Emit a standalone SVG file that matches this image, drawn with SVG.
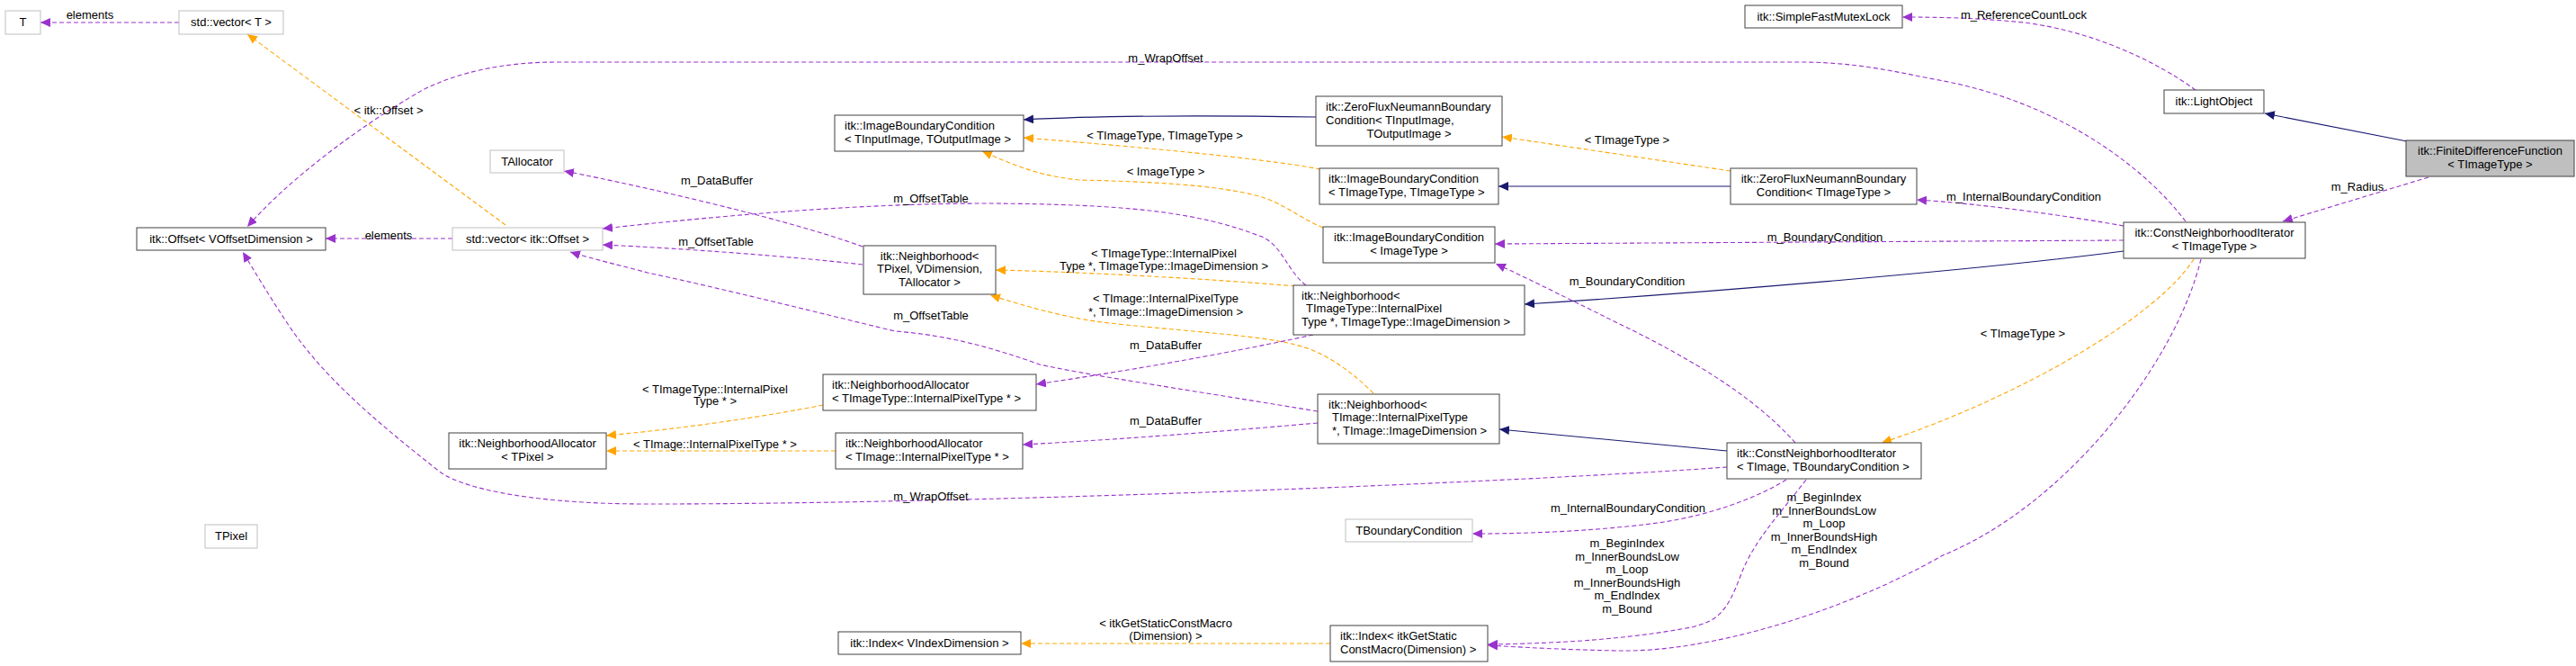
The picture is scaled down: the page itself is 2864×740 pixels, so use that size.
<svg xmlns="http://www.w3.org/2000/svg" width="2864" height="740" viewBox="0 0 2864 740">
<style>
text{font-family:"Liberation Sans",Arial,sans-serif;font-size:13px;fill:#000}
.n rect{fill:#fff;stroke:#404040;stroke-width:1}
.g rect{fill:#fff;stroke:#bfbfbf;stroke-width:1}
.f rect{fill:#bfbfbf;stroke:#404040}
.c{text-anchor:middle}
.e path{fill:none;stroke-width:1.1}
.p{stroke:#9a32cd;stroke-dasharray:5,3;marker-end:url(#mp)}
.o{stroke:#ffa500;stroke-dasharray:5,3;marker-end:url(#mo)}
.b{stroke:#191970;marker-end:url(#mb)}
.l text{text-anchor:middle}
</style>
<defs>
<marker id="mp" markerWidth="12" markerHeight="10" refX="11" refY="5" orient="auto" markerUnits="userSpaceOnUse"><path d="M0,0 L11,5 L0,10 z" fill="#9a32cd"/></marker>
<marker id="mo" markerWidth="12" markerHeight="10" refX="11" refY="5" orient="auto" markerUnits="userSpaceOnUse"><path d="M0,0 L11,5 L0,10 z" fill="#ffa500"/></marker>
<marker id="mb" markerWidth="12" markerHeight="10" refX="11" refY="5" orient="auto" markerUnits="userSpaceOnUse"><path d="M0,0 L11,5 L0,10 z" fill="#191970"/></marker>
</defs>
<rect width="2864" height="740" fill="#fff"/>
<g class="e" id="connectors">
<path class="p" d="M199,25 L45,25"/>
<path class="o" d="M562,250 L275,38"/>
<path class="p" d="M503,265 L362,265"/>
<path class="p" d="M2430,246 C2380,180 2280,110 2150,88 C2100,78 2060,69 2000,69 L620,69 C560,69 510,80 470,100 C400,140 320,200 275,252"/>
<path class="p" d="M1920,519 C1700,535 1100,560 720,560 C600,560 520,545 490,525 C420,470 360,420 320,360 C300,330 282,300 270,280"/>
<path class="p" d="M959,274 C880,245 720,208 627,190"/>
<path class="p" d="M959,294 C880,285 760,276 670,272"/>
<path class="p" d="M1452,317 C1430,300 1425,270 1400,262 C1330,235 1250,227 1100,226 C950,226 800,240 670,254"/>
<path class="p" d="M1465,457 C1300,430 1200,415 1156,405 C1100,385 1050,372 995,368 C900,345 800,320 720,303 C690,295 660,288 634,280"/>
<path class="b" d="M1463,130 C1400,129 1250,127 1138,133"/>
<path class="o" d="M1468,188 C1400,175 1250,162 1138,153"/>
<path class="o" d="M1471,253 C1445,242 1425,225 1400,218 C1350,205 1280,202 1200,200 C1150,195 1120,180 1092,168"/>
<path class="o" d="M1924,190 L1670,152"/>
<path class="b" d="M1924,207 L1666,207"/>
<path class="p" d="M2441,100 C2400,70 2330,35 2250,25 C2200,20 2160,19 2115,19"/>
<path class="b" d="M2676,157 L2518,126"/>
<path class="p" d="M2700,197 L2538,246"/>
<path class="p" d="M2361,251 C2300,240 2200,226 2131,222"/>
<path class="p" d="M2361,267 L1662,271"/>
<path class="b" d="M2361,279 C2200,300 1900,325 1695,338"/>
<path class="o" d="M2439,288 C2400,350 2250,440 2092,492"/>
<path class="p" d="M2447,288 C2420,400 2300,560 2160,617 C2050,680 1900,725 1800,723 C1740,722 1690,719 1654,717"/>
<path class="p" d="M1996,492 C1950,440 1880,400 1821,370 C1760,340 1700,310 1663,293"/>
<path class="b" d="M1920,501 L1667,477"/>
<path class="p" d="M1986,533 C1950,555 1900,572 1850,580 C1780,590 1700,593 1637,593"/>
<path class="p" d="M2008,533 C1980,570 1950,600 1935,640 C1920,680 1910,690 1880,697 C1800,712 1720,715 1654,716"/>
<path class="o" d="M1479,715 L1135,715"/>
<path class="o" d="M1440,318 C1350,310 1200,302 1107,300"/>
<path class="o" d="M1527,437 C1500,410 1470,390 1440,383 C1400,372 1300,367 1225,358 C1180,352 1140,340 1101,328"/>
<path class="p" d="M1460,372 C1400,385 1300,405 1152,427"/>
<path class="p" d="M1465,470 C1350,480 1250,488 1137,494"/>
<path class="o" d="M915,450 C850,463 760,476 674,484"/>
<path class="o" d="M929,501 L674,501"/>
<g class="l">
<text x="100" y="21">elements</text>
<text x="432" y="127">&lt; itk::Offset &gt;</text>
<text x="432" y="266">elements</text>
<text x="1296" y="69">m_WrapOffset</text>
<text x="797" y="205">m_DataBuffer</text>
<text x="1035" y="225">m_OffsetTable</text>
<text x="796" y="273">m_OffsetTable</text>
<text x="1035" y="355">m_OffsetTable</text>
<text x="1295" y="155">&lt; TImageType, TImageType &gt;</text>
<text x="1296" y="195">&lt; ImageType &gt;</text>
<text x="1294" y="286">&lt; TImageType::InternalPixel</text>
<text x="1294" y="300">Type *, TImageType::ImageDimension &gt;</text>
<text x="1296" y="336">&lt; TImage::InternalPixelType</text>
<text x="1296" y="351">*, TImage::ImageDimension &gt;</text>
<text x="1809" y="160">&lt; TImageType &gt;</text>
<text x="2029" y="268">m_BoundaryCondition</text>
<text x="1809" y="317">m_BoundaryCondition</text>
<text x="2250" y="21">m_ReferenceCountLock</text>
<text x="2250" y="223">m_InternalBoundaryCondition</text>
<text x="2621" y="212">m_Radius</text>
<text x="2249" y="375">&lt; TImageType &gt;</text>
<text x="1296" y="388">m_DataBuffer</text>
<text x="1296" y="472">m_DataBuffer</text>
<text x="795" y="437">&lt; TImageType::InternalPixel</text>
<text x="795" y="450">Type * &gt;</text>
<text x="795" y="498">&lt; TImage::InternalPixelType * &gt;</text>
<text x="1035" y="556">m_WrapOffset</text>
<text x="1296" y="697">&lt; itkGetStaticConstMacro</text>
<text x="1296" y="711">(Dimension) &gt;</text>
<text x="1810" y="569">m_InternalBoundaryCondition</text>
<text x="2028" y="557">m_BeginIndex</text>
<text x="2028" y="572">m_InnerBoundsLow</text>
<text x="2028" y="586">m_Loop</text>
<text x="2028" y="601">m_InnerBoundsHigh</text>
<text x="2028" y="615">m_EndIndex</text>
<text x="2028" y="630">m_Bound</text>
<text x="1809" y="608">m_BeginIndex</text>
<text x="1809" y="623">m_InnerBoundsLow</text>
<text x="1809" y="637">m_Loop</text>
<text x="1809" y="652">m_InnerBoundsHigh</text>
<text x="1809" y="666">m_EndIndex</text>
<text x="1809" y="681">m_Bound</text>
</g>
</g>
<g id="T" class="g"><rect x="6" y="12" width="39" height="26"/><text class="c" x="25.5" y="29">T</text></g>
<g id="vectorT" class="g"><rect x="199" y="12" width="116" height="26"/><text class="c" x="257" y="29">std::vector&lt; T &gt;</text></g>
<g id="Offset" class="n"><rect x="152" y="253" width="210" height="25"/><text class="c" x="257" y="270">itk::Offset&lt; VOffsetDimension &gt;</text></g>
<g id="vectorOffset" class="g"><rect x="503" y="253" width="167" height="25"/><text class="c" x="586.5" y="270">std::vector&lt; itk::Offset &gt;</text></g>
<g id="TAllocator" class="g"><rect x="545" y="167" width="82" height="25"/><text class="c" x="586" y="184">TAllocator</text></g>
<g id="NATPixel" class="n"><rect x="499" y="481" width="175" height="40"/><text class="c" x="586.5" y="497">itk::NeighborhoodAllocator</text><text class="c" x="586.5" y="512">&lt; TPixel &gt;</text></g>
<g id="TPixel" class="g"><rect x="228" y="583" width="58" height="26"/><text class="c" x="257" y="600">TPixel</text></g>
<g id="IBCInOut" class="n"><rect x="928" y="128" width="210" height="40"/><text x="939" y="144">itk::ImageBoundaryCondition</text><text x="939" y="159">&lt; TInputImage, TOutputImage &gt;</text></g>
<g id="NbhTPixel" class="n"><rect x="960" y="273" width="147" height="54"/><text class="c" x="1033.5" y="289">itk::Neighborhood&lt;</text><text class="c" x="1033.5" y="303">TPixel, VDimension,</text><text class="c" x="1033.5" y="318">TAllocator &gt;</text></g>
<g id="NATImageType" class="n"><rect x="915" y="416" width="237" height="40"/><text x="925" y="432">itk::NeighborhoodAllocator</text><text x="925" y="447">&lt; TImageType::InternalPixelType * &gt;</text></g>
<g id="NATImage" class="n"><rect x="929" y="481" width="208" height="40"/><text x="940" y="497">itk::NeighborhoodAllocator</text><text x="940" y="512">&lt; TImage::InternalPixelType * &gt;</text></g>
<g id="IndexV" class="n"><rect x="932" y="702" width="203" height="25"/><text class="c" x="1033.5" y="719">itk::Index&lt; VIndexDimension &gt;</text></g>
<g id="ZFInOut" class="n"><rect x="1463" y="107" width="207" height="55"/><text x="1474" y="123">itk::ZeroFluxNeumannBoundary</text><text x="1474" y="138">Condition&lt; TInputImage,</text><text class="c" x="1566.5" y="153">TOutputImage &gt;</text></g>
<g id="IBCTT" class="n"><rect x="1467" y="187" width="199" height="40"/><text x="1477" y="203">itk::ImageBoundaryCondition</text><text x="1477" y="218">&lt; TImageType, TImageType &gt;</text></g>
<g id="IBCImageType" class="n"><rect x="1471" y="252" width="191" height="40"/><text class="c" x="1566.5" y="268">itk::ImageBoundaryCondition</text><text class="c" x="1566.5" y="283">&lt; ImageType &gt;</text></g>
<g id="NbhTImageType" class="n"><rect x="1438" y="317" width="257" height="55"/><text x="1447" y="333">itk::Neighborhood&lt;</text><text x="1452" y="347">TImageType::InternalPixel</text><text x="1447" y="362">Type *, TImageType::ImageDimension &gt;</text></g>
<g id="SFML" class="n"><rect x="1940" y="6" width="175" height="25"/><text class="c" x="2027.5" y="23">itk::SimpleFastMutexLock</text></g>
<g id="ZFTImageType" class="n"><rect x="1924" y="187" width="207" height="40"/><text class="c" x="2027.5" y="203">itk::ZeroFluxNeumannBoundary</text><text class="c" x="2027.5" y="218">Condition&lt; TImageType &gt;</text></g>
<g id="LightObject" class="n"><rect x="2406" y="100" width="111" height="26"/><text class="c" x="2461.5" y="117">itk::LightObject</text></g>
<g id="FDF" class="f"><rect x="2675" y="156" width="187" height="40"/><text class="c" x="2768.5" y="172">itk::FiniteDifferenceFunction</text><text class="c" x="2768.5" y="187">&lt; TImageType &gt;</text></g>
<g id="CNITImageType" class="n"><rect x="2361" y="247" width="202" height="40"/><text class="c" x="2462" y="263">itk::ConstNeighborhoodIterator</text><text class="c" x="2462" y="278">&lt; TImageType &gt;</text></g>
<g id="NbhTImage" class="n"><rect x="1465" y="438" width="202" height="55"/><text x="1477" y="454">itk::Neighborhood&lt;</text><text x="1481" y="468">TImage::InternalPixelType</text><text x="1481" y="483">*, TImage::ImageDimension &gt;</text></g>
<g id="CNITImageTBC" class="n"><rect x="1920" y="492" width="216" height="40"/><text x="1931" y="508">itk::ConstNeighborhoodIterator</text><text x="1931" y="523">&lt; TImage, TBoundaryCondition &gt;</text></g>
<g id="TBoundaryCondition" class="g"><rect x="1496" y="577" width="141" height="25"/><text class="c" x="1566.5" y="594">TBoundaryCondition</text></g>
<g id="IndexMacro" class="n"><rect x="1479" y="695" width="175" height="40"/><text x="1490" y="711">itk::Index&lt; itkGetStatic</text><text x="1490" y="726">ConstMacro(Dimension) &gt;</text></g>
</svg>
